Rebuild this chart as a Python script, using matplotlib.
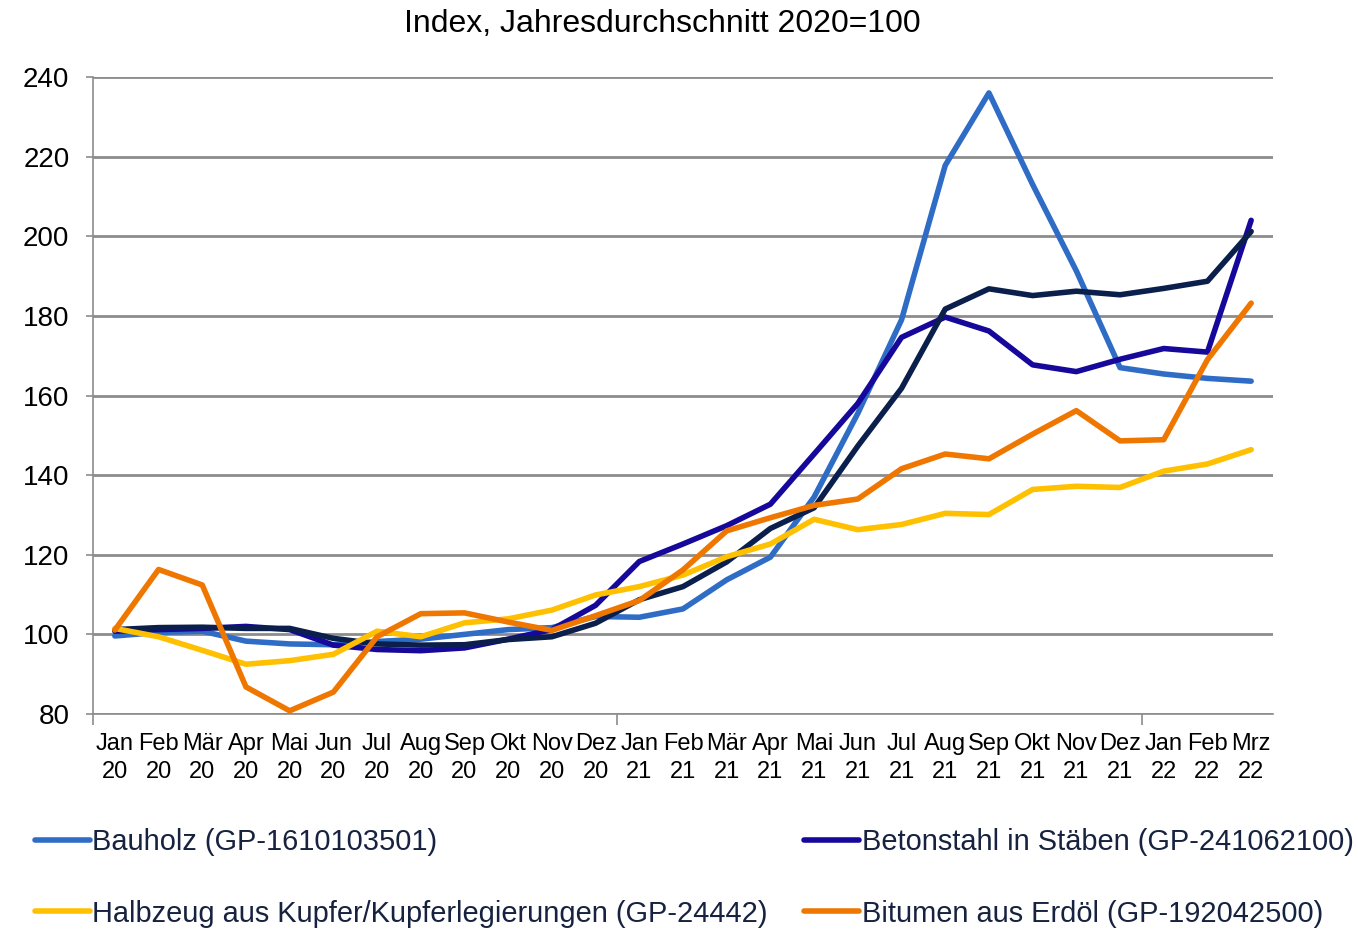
import matplotlib
matplotlib.use("Agg")
import matplotlib.pyplot as plt
import numpy as np

plt.rcParams["font.family"] = ["Liberation Sans", "DejaVu Sans"]

months = ["Jan\n20", "Feb\n20", "Mär\n20", "Apr\n20", "Mai\n20", "Jun\n20",
          "Jul\n20", "Aug\n20", "Sep\n20", "Okt\n20", "Nov\n20", "Dez\n20",
          "Jan\n21", "Feb\n21", "Mär\n21", "Apr\n21", "Mai\n21", "Jun\n21",
          "Jul\n21", "Aug\n21", "Sep\n21", "Okt\n21", "Nov\n21", "Dez\n21",
          "Jan\n22", "Feb\n22", "Mrz\n22"]

bauholz = [99.6, 100.5, 100.8, 98.3, 97.6, 97.4, 98.2, 98.8, 100.0, 101.2, 101.7, 104.5,
           104.3, 106.4, 113.7, 119.4, 134.5, 155.5, 179.0, 217.8, 236.0, 213.0, 191.3, 167.0,
           165.4, 164.3, 163.6]
betonstahl = [100.8, 101.2, 101.5, 102.0, 101.2, 97.3, 96.2, 95.9, 96.6, 98.8, 101.2, 107.3,
              118.3, 122.7, 127.3, 132.7, 145.3, 158.0, 174.6, 179.7, 176.2, 167.7, 166.0, 169.1,
              171.8, 170.9, 204.0]
sonstige = [101.2, 101.7, 101.8, 101.5, 101.5, 99.0, 97.6, 97.3, 97.4, 98.7, 99.4, 102.8,
            108.7, 112.0, 118.2, 126.6, 131.8, 147.3, 161.8, 181.7, 186.8, 185.1, 186.2, 185.3,
            186.9, 188.7, 201.2]
halbzeug = [101.5, 99.4, 96.0, 92.5, 93.4, 95.0, 100.8, 99.4, 102.9, 103.9, 106.1, 109.9,
            112.0, 114.9, 119.5, 122.7, 128.9, 126.3, 127.6, 130.4, 130.1, 136.4, 137.2, 136.9,
            141.0, 142.8, 146.4]
bitumen = [101.1, 116.3, 112.4, 86.8, 80.8, 85.5, 99.4, 105.2, 105.4, 103.1, 101.0, 104.7,
           108.5, 116.2, 126.0, 129.3, 132.4, 134.0, 141.6, 145.3, 144.1, 150.3, 156.2, 148.6,
           148.9, 169.0, 183.2]

labels = ["Bauholz (GP-1610103501)", "Betonstahl in Stäben (GP-241062100)",
          "Halbzeug aus Kupfer/Kupferlegierungen (GP-24442)", "Bitumen aus Erdöl (GP-192042500)"]
colors = ["#2F6CC6", "#15089A", "#0B1F4C", "#FFC000", "#EF7700"]

x = np.arange(len(months))

fig = plt.figure(figsize=(13.58, 9.33), dpi=100)
ax = fig.add_axes([93 / 1358, 1 - 714 / 933, 1180 / 1358, 637 / 933])

lw = 4.0
h_bau, = ax.plot(x, bauholz, color=colors[0], lw=lw, solid_capstyle="round", zorder=3)
h_bet, = ax.plot(x, betonstahl, color=colors[1], lw=lw, solid_capstyle="round", zorder=3)
ax.plot(x, sonstige, color=colors[2], lw=lw, solid_capstyle="round", zorder=3)
h_hal, = ax.plot(x, halbzeug, color=colors[3], lw=lw, solid_capstyle="round", zorder=3)
h_bit, = ax.plot(x, bitumen, color=colors[4], lw=lw, solid_capstyle="round", zorder=3)

ax.set_xlim(-0.5, len(months) - 0.5)
ax.set_ylim(80, 240)
ax.set_yticks(np.arange(80, 241, 20))
ax.yaxis.grid(True, color="#8C8C8C", lw=2)
ax.set_axisbelow(True)

# month labels centred on categories, tick marks on year boundaries
ax.set_xticks([-0.5, 11.5, 23.5])
ax.set_xticklabels([])
ax.set_xticks(x, months, minor=True)
ax.tick_params(axis="x", which="major", length=8, width=1.2, color="#8C8C8C")
ax.tick_params(axis="x", which="minor", length=0, pad=14, labelsize=17)
ax.tick_params(axis="y", length=5, width=1.2, color="#8C8C8C", pad=12, labelsize=20)
for lab in ax.get_xticklabels(minor=True):
    lab.set_linespacing(1.3)

for side in ["top", "right"]:
    ax.spines[side].set_visible(False)
for side in ["left", "bottom"]:
    ax.spines[side].set_color("#8C8C8C")
    ax.spines[side].set_linewidth(1.2)

fig.text(662 / 1358, 1 - 24 / 933, "Index, Jahresdurchschnitt 2020=100",
         ha="center", va="center", fontsize=23)

# legend fills column-wise, so order gives rows: Bauholz | Betonstahl, Halbzeug | Bitumen
fig.legend([h_bau, h_hal, h_bet, h_bit], [labels[0], labels[2], labels[1], labels[3]],
           ncol=2, frameon=False,
           loc="upper left", bbox_to_anchor=(35 / 1358, 1 - 828 / 933),
           borderpad=0, borderaxespad=0, handlelength=1.9, handletextpad=0.08,
           columnspacing=1.25, labelspacing=1.5, fontsize=20.9, labelcolor="#16223F")

fig.savefig("out.png", dpi=100)
